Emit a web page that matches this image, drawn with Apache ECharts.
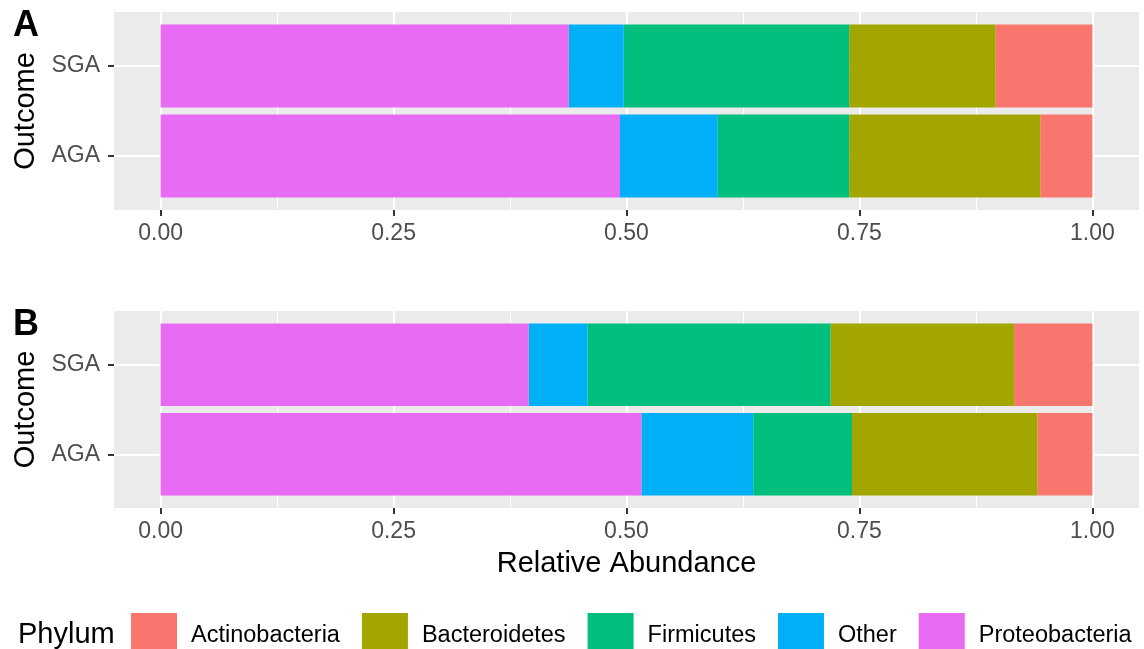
<!DOCTYPE html>
<html>
<head>
<meta charset="utf-8">
<script src="https://cdn.jsdelivr.net/npm/echarts@6/dist/echarts.min.js"></script>
<style>
html, body { margin: 0; padding: 0; background: #fff; }
#chart { width: 1144px; height: 649px; }
</style>
</head>
<body>
<div id="chart"></div>
<script>
// Categories and legend entries
const outcomes = ['AGA', 'SGA'];
const phyla = ['Actinobacteria', 'Bacteroidetes', 'Firmicutes', 'Other', 'Proteobacteria'];
const phylumColors = ['#F8766D', '#A3A500', '#00BF7D', '#00B0F6', '#E76BF3'];
const xTicks = [0, 0.25, 0.5, 0.75, 1];
const xMinorTicks = [0.125, 0.375, 0.625, 0.875];

// Panel A: relative abundance per phylum, ordered [AGA, SGA]
const aActinobacteria = [0.056, 0.104];
const aBacteroidetes  = [0.205, 0.157];
const aFirmicutes     = [0.141, 0.242];
const aOther          = [0.105, 0.059];
const aProteobacteria = [0.493, 0.438];

// Panel B: relative abundance per phylum, ordered [AGA, SGA]
const bActinobacteria = [0.059, 0.084];
const bBacteroidetes  = [0.199, 0.197];
const bFirmicutes     = [0.106, 0.261];
const bOther          = [0.120, 0.063];
const bProteobacteria = [0.516, 0.395];

const panelValues = [
  [aActinobacteria, aBacteroidetes, aFirmicutes, aOther, aProteobacteria],
  [bActinobacteria, bBacteroidetes, bFirmicutes, bOther, bProteobacteria]
];
const panelTags = ['A', 'B'];

const FONT = '"Liberation Sans", Arial, Helvetica, sans-serif';
const BAR_WIDTH = 0.92; // in y-axis units (one unit per outcome)
const GRID_COLOR = '#FFFFFF';
const PANEL_BG = '#EBEBEB';

// Stack segments left to right: the last phylum level sits next to zero
function stackSegments(values) {
  const out = phyla.map(() => []);
  outcomes.forEach((o, oi) => {
    let start = 0;
    for (let p = phyla.length - 1; p >= 0; p--) {
      const v = values[p][oi];
      out[p].push([start, start + v, oi + 1]);
      start += v;
    }
  });
  return out;
}

function renderSegment(params, api) {
  const p0 = api.coord([api.value(0), api.value(2)]);
  const p1 = api.coord([api.value(1), api.value(2)]);
  const h = api.size([0, BAR_WIDTH])[1];
  return {
    type: 'rect',
    shape: { x: p0[0], y: p0[1] - h / 2, width: p1[0] - p0[0], height: h },
    style: { fill: api.visual('color') }
  };
}

const gridBoxes = [
  { left: 114, top: 12, width: 1025, height: 198 },
  { left: 114, top: 311, width: 1025, height: 197 }
];

const grids = [], xAxes = [], yAxes = [], series = [];

gridBoxes.forEach((box, gi) => {
  grids.push(Object.assign({
    show: true, backgroundColor: PANEL_BG, borderWidth: 0, containLabel: false
  }, box));

  // major x axis: ticks, labels and major grid lines
  xAxes.push({
    type: 'value', gridIndex: gi, min: -0.05, max: 1.05, position: 'bottom',
    axisLine: { show: false, onZero: false },
    axisTick: { show: true, length: 6, customValues: xTicks,
                lineStyle: { color: '#333333', width: 2 } },
    axisLabel: { show: true, customValues: xTicks, margin: 12,
                 color: '#4D4D4D', fontSize: 23, fontFamily: FONT,
                 formatter: v => v.toFixed(2) },
    splitLine: { show: true, lineStyle: { color: GRID_COLOR, width: 2.2 } },
    name: gi === 1 ? 'Relative Abundance' : '',
    nameLocation: 'middle', nameGap: 41,
    nameTextStyle: { color: '#000', fontSize: 29, fontFamily: FONT }
  });
  // companion x axis that only draws the minor grid lines
  xAxes.push({
    type: 'value', gridIndex: gi, min: -0.05, max: 1.05, position: 'top',
    axisLine: { show: false, onZero: false },
    axisTick: { show: false, customValues: xMinorTicks },
    axisLabel: { show: false, customValues: xMinorTicks },
    splitLine: { show: true, lineStyle: { color: GRID_COLOR, width: 1.1 } }
  });

  yAxes.push({
    type: 'value', gridIndex: gi, min: 0.4, max: 2.6, position: 'left',
    axisLine: { show: false, onZero: false },
    axisTick: { show: true, length: 6, customValues: [1, 2],
                lineStyle: { color: '#333333', width: 2 } },
    axisLabel: { show: true, customValues: [1, 2], margin: 14,
                 color: '#4D4D4D', fontSize: 23, fontFamily: FONT,
                 formatter: v => outcomes[Math.round(v) - 1] },
    splitLine: { show: true, lineStyle: { color: GRID_COLOR, width: 2.2 } },
    name: 'Outcome', nameLocation: 'middle', nameGap: 73, nameRotate: 90,
    nameTextStyle: { color: '#000', fontSize: 29, fontFamily: FONT }
  });

  const segs = stackSegments(panelValues[gi]);
  phyla.forEach((name, p) => {
    series.push({
      type: 'custom', name: name,
      xAxisIndex: gi * 2, yAxisIndex: gi,
      renderItem: renderSegment,
      encode: { x: [0, 1], y: 2 },
      itemStyle: { color: phylumColors[p] },
      data: segs[p],
      silent: true
    });
  });
});

const chart = echarts.init(document.getElementById('chart'), null, { renderer: 'canvas' });
chart.setOption({
  animation: false,
  color: phylumColors,
  textStyle: { fontFamily: FONT },
  title: [
    { text: panelTags[0], left: 13, top: 8, padding: 0,
      textStyle: { fontSize: 36, fontWeight: 'bold', color: '#000', fontFamily: FONT } },
    { text: panelTags[1], left: 13, top: 307, padding: 0,
      textStyle: { fontSize: 36, fontWeight: 'bold', color: '#000', fontFamily: FONT } },
    { text: 'Phylum', left: 18, top: 620, padding: 0,
      textStyle: { fontSize: 29, fontWeight: 'normal', color: '#000', fontFamily: FONT } }
  ],
  legend: {
    data: phyla,
    orient: 'horizontal',
    left: 131, top: 613, padding: 0,
    itemWidth: 46, itemHeight: 46, itemGap: 22,
    icon: 'rect', selectedMode: false,
    textStyle: { fontSize: 23.5, color: '#000', fontFamily: FONT, padding: [0, 0, 0, 9] }
  },
  grid: grids,
  xAxis: xAxes,
  yAxis: yAxes,
  series: series
});
</script>
</body>
</html>
